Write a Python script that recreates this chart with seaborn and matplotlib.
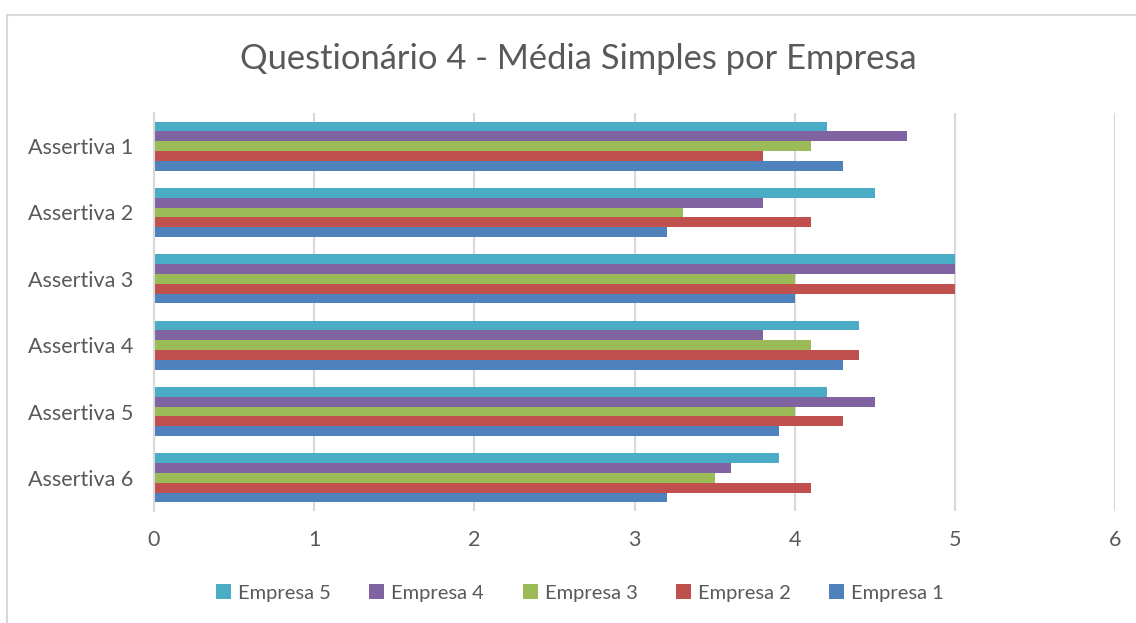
import matplotlib
matplotlib.use("Agg")
import matplotlib.pyplot as plt
import seaborn as sns
import pandas as pd
from matplotlib.patches import Rectangle

# Mean scores per statement and company
assertivas = ["Assertiva 1", "Assertiva 2", "Assertiva 3", "Assertiva 4", "Assertiva 5", "Assertiva 6"]
empresa_1 = [4.3, 3.2, 4.0, 4.3, 3.9, 3.2]
empresa_2 = [3.8, 4.1, 5.0, 4.4, 4.3, 4.1]
empresa_3 = [4.1, 3.3, 4.0, 4.1, 4.0, 3.5]
empresa_4 = [4.7, 3.8, 5.0, 3.8, 4.5, 3.6]
empresa_5 = [4.2, 4.5, 5.0, 4.4, 4.2, 3.9]

series = {
    "Empresa 5": empresa_5,
    "Empresa 4": empresa_4,
    "Empresa 3": empresa_3,
    "Empresa 2": empresa_2,
    "Empresa 1": empresa_1,
}
colors = {
    "Empresa 5": "#4BACC6",
    "Empresa 4": "#8064A2",
    "Empresa 3": "#9BBB59",
    "Empresa 2": "#C0504D",
    "Empresa 1": "#4F81BD",
}

rows = []
for emp, vals in series.items():
    for a, v in zip(assertivas, vals):
        rows.append({"Assertiva": a, "Empresa": emp, "Media": v})
df = pd.DataFrame(rows)

sns.set_theme(style="white")
plt.rcParams["font.family"] = ["Lato", "DejaVu Sans"]
plt.rcParams["xtick.major.pad"] = 14
plt.rcParams["ytick.major.pad"] = 15
text_color = "#595959"
grid_color = "#D9D9D9"

fig = plt.figure(figsize=(11.36, 6.23), dpi=100)
ax = fig.add_axes([154 / 1136, 1 - 511 / 623, (1115 - 154) / 1136, (511 - 113) / 623])

sns.barplot(
    data=df, y="Assertiva", x="Media", hue="Empresa",
    hue_order=list(series.keys()), order=assertivas,
    palette=colors, orient="h", width=0.74, saturation=1,
    linewidth=0, ax=ax, legend=True,
)

ax.set_xlim(0, 6)
ax.set_xticks(range(0, 7))
ax.set_xlabel("")
ax.set_ylabel("")
ax.xaxis.grid(True, color=grid_color, linewidth=1.5)
ax.set_axisbelow(True)
for side in ["top", "right", "bottom"]:
    ax.spines[side].set_visible(False)
ax.spines["left"].set_color(grid_color)
ax.spines["left"].set_linewidth(1.5)
ax.tick_params(axis="x", length=0, pad=14, labelsize=15.5, labelcolor=text_color)
ax.tick_params(axis="y", length=0, pad=15, labelsize=15.5, labelcolor=text_color)

handles, labels = ax.get_legend_handles_labels()
ax.legend_.remove()
fig.legend(
    handles, labels, loc="center", bbox_to_anchor=(580 / 1136, 1 - 593 / 623),
    ncol=5, frameon=False, fontsize=14.5, labelcolor=text_color,
    handlelength=0.75, handleheight=0.75, handletextpad=0.35, columnspacing=1.9,
)

fig.text(578 / 1136, 1 - 59 / 623, "Questionário 4 - Média Simples por Empresa",
         ha="center", va="center", fontsize=24.8, color=text_color)

# Chart area frame
fig.patches.append(Rectangle((7 / 1136, -0.05), 1.2, 1 - 15 / 623 + 0.05,
                             transform=fig.transFigure, fill=False,
                             edgecolor=grid_color, linewidth=1.5))

fig.savefig("out.png", dpi=100)
